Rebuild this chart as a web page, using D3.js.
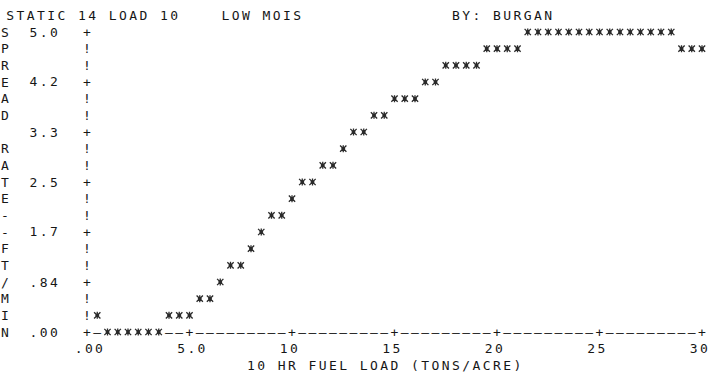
<!DOCTYPE html>
<html>
<head>
<meta charset="utf-8">
<script src="https://cdn.jsdelivr.net/npm/d3@7"></script>
<style>
  body { margin: 0; background: #fff; }
  text { font-family: "DejaVu Sans Mono", "Liberation Mono", monospace; font-size: 13px; fill: #161616; }
</style>
</head>
<body>
<svg id="drawing_region"></svg>
<script>
// line printer plot: spread rate vs 10 hr fuel load
const titleLeft = "STATIC 14 LOAD 10    LOW MOIS";
const titleRight = "BY: BURGAN";
const yAxisTitle = "SPREAD RATE--FT/MIN";
const xAxisTitle = "10 HR FUEL LOAD (TONS/ACRE)";

const xTickValues = [0, 5, 10, 15, 20, 25, 30];
const xTickLabels = [".00", "5.0", "10", "15", "20", "25", "30"];
const yTickValues = [5.0, 4.17, 3.33, 2.5, 1.67, 0.83, 0];
const yTickLabels = ["5.0", "4.2", "3.3", "2.5", "1.7", ".84", ".00"];

const fuelLoad = [
    0.5, 1.0, 1.5, 2.0, 2.5, 3.0, 3.5, 4.0, 4.5, 5.0,
    5.5, 6.0, 6.5, 7.0, 7.5, 8.0, 8.5, 9.0, 9.5, 10.0,
    10.5, 11.0, 11.5, 12.0, 12.5, 13.0, 13.5, 14.0, 14.5, 15.0,
    15.5, 16.0, 16.5, 17.0, 17.5, 18.0, 18.5, 19.0, 19.5, 20.0,
    20.5, 21.0, 21.5, 22.0, 22.5, 23.0, 23.5, 24.0, 24.5, 25.0,
    25.5, 26.0, 26.5, 27.0, 27.5, 28.0, 28.5, 29.0, 29.5, 30.0
];
const spreadRate = [
    0.28, 0.00, 0.00, 0.00, 0.00, 0.00, 0.00, 0.28, 0.28, 0.28,
    0.56, 0.56, 0.83, 1.11, 1.11, 1.39, 1.67, 1.94, 1.94, 2.22,
    2.50, 2.50, 2.78, 2.78, 3.06, 3.33, 3.33, 3.61, 3.61, 3.89,
    3.89, 3.89, 4.17, 4.17, 4.44, 4.44, 4.44, 4.44, 4.72, 4.72,
    4.72, 4.72, 5.00, 5.00, 5.00, 5.00, 5.00, 5.00, 5.00, 5.00,
    5.00, 5.00, 5.00, 5.00, 5.00, 5.00, 5.00, 4.72, 4.72, 4.72
];

const width = 721, height = 383;
const xStep = 0.5;          // one print column
const yStep = 5 / 18;       // one print line

const x = d3.scaleLinear().domain([0, 30]).range([87, 702]);
const y = d3.scaleLinear().domain([0, 5]).range([332, 32]);

const colX = c => x(c * xStep);
const rowY = r => y(5 - r * yStep);
const snap = v => Math.round(v / yStep) * yStep;

const svg = d3.select('#drawing_region')
    .attr('width', width)
    .attr('height', height);

svg.append('rect').attr('width', width).attr('height', height).attr('fill', '#fff');

// print a string one character per cell
function put(str, col, row, dir) {
    const chars = str.split('').map((ch, i) => ({
        ch: ch,
        c: dir === 'down' ? col : col + i,
        r: dir === 'down' ? row + i : row
    })).filter(d => d.ch !== ' ');
    svg.append('g').selectAll('text')
        .data(chars)
        .enter()
        .append('text')
        .attr('x', d => colX(d.c))
        .attr('y', d => rowY(d.r))
        .attr('dy', '0.36em')
        .attr('text-anchor', 'middle')
        .text(d => d.ch);
}

const points = fuelLoad.map((v, i) => ({ col: Math.round(v / xStep), fx: v, fy: snap(spreadRate[i]) }));
const used = new Set(points.map(d => d.col + ',' + Math.round((5 - d.fy) / yStep)));

// axes made of + ! - characters
const axisChars = [];
d3.range(0, 19).forEach(r => {
    if (!used.has('0,' + r)) axisChars.push({ c: 0, r: r, ch: r % 3 === 0 ? '+' : '!' });
});
d3.range(1, 61).forEach(c => {
    if (!used.has(c + ',18')) axisChars.push({ c: c, r: 18, ch: c % 10 === 0 ? '+' : '\u2013' });
});
svg.append('g').selectAll('text')
    .data(axisChars)
    .enter()
    .append('text')
    .attr('x', d => colX(d.c))
    .attr('y', d => rowY(d.r))
    .attr('dy', '0.36em')
    .attr('text-anchor', 'middle')
    .text(d => d.ch);

// tick labels
svg.append('g').selectAll('text')
    .data(yTickValues)
    .enter()
    .append('text')
    .attr('x', colX(-3) + 4)
    .attr('y', d => y(d))
    .attr('dy', '0.36em')
    .attr('text-anchor', 'end')
    .style('letter-spacing', '2.4px')
    .text((d, i) => yTickLabels[i]);

svg.append('g').selectAll('text')
    .data(xTickValues)
    .enter()
    .append('text')
    .attr('x', (d, i) => x(d) + (xTickLabels[i].length === 3 ? 3 : -2))
    .attr('y', rowY(19))
    .attr('dy', '0.36em')
    .attr('text-anchor', 'middle')
    .style('letter-spacing', '2.4px')
    .text((d, i) => xTickLabels[i]);

put(titleLeft, -7.5, -1);
put(titleRight, 36, -1);
put(yAxisTitle, -8, 0, 'down');
put(xAxisTitle, 16, 20);

// the plotted asterisks
const printerStar = {
    draw(ctx, size) {
        const r = Math.sqrt(size) / 2;
        ctx.moveTo(-r, -r); ctx.lineTo(r, r);
        ctx.moveTo(-r, r); ctx.lineTo(r, -r);
        ctx.moveTo(0, -r * 1.1); ctx.lineTo(0, r * 1.1);
        ctx.moveTo(-r * 0.6, 0); ctx.lineTo(r * 0.6, 0);
    }
};

svg.append('g').selectAll('path')
    .data(points)
    .enter()
    .append('path')
    .attr('transform', d => `translate(${x(d.fx)},${y(d.fy)})`)
    .attr('d', d3.symbol().type(printerStar).size(40))
    .attr('fill', 'none')
    .attr('stroke', '#2a2a2a')
    .style('stroke-width', '1.3px');
</script>
</body>
</html>
